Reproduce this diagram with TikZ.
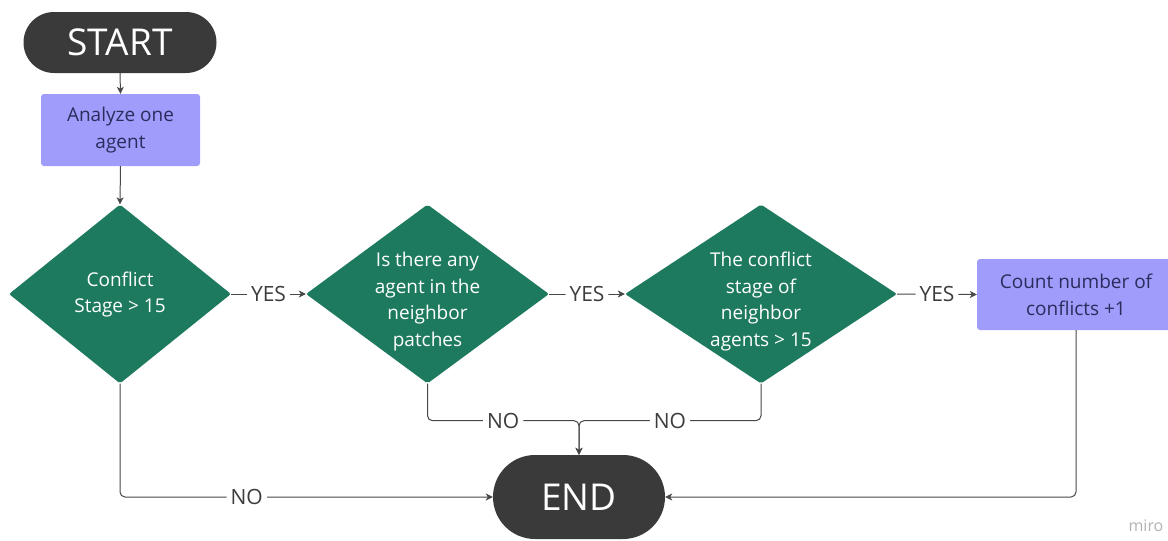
\documentclass[tikz,border=0pt]{standalone}
\usepackage{fontspec}
\setmainfont{Open Sans}
\usetikzlibrary{shapes.geometric,shapes.misc,arrows.meta}

\definecolor{pillfill}{HTML}{3A3A3A}
\definecolor{decfill}{HTML}{1E7A5E}
\definecolor{procfill}{HTML}{9F9CFB}
\definecolor{proctext}{HTML}{2C2B5C}
\definecolor{linecol}{HTML}{474747}
\definecolor{labelcol}{HTML}{3C3C3C}

\tikzset{
  x=1pt, y=1pt,
  pill/.style={rounded rectangle, fill=pillfill, text=white, inner sep=0pt,
    font=\fontsize{37}{42}\selectfont},
  procbox/.style={rectangle, rounded corners=3pt, fill=procfill, text=proctext,
    inner sep=0pt, align=center, font=\fontsize{19}{27}\selectfont},
  decision/.style={diamond, fill=decfill, inner sep=0pt, rounded corners=2pt},
  dtext/.style={text=white, align=center, inner sep=0pt,
    font=\fontsize{19}{26.5}\selectfont},
  flow/.style={draw=linecol, line width=1pt, rounded corners=5pt,
    -{Stealth[length=7pt,width=7pt,inset=2pt]}},
  flowlabel/.style={fill=white, text=labelcol, inner sep=4pt,
    font=\fontsize{21}{24}\selectfont},
}

\begin{document}
\begin{tikzpicture}
\useasboundingbox (0,0) rectangle (1168,-541);
\clip (0,0) rectangle (1168,-541);

% terminals
\node[pill, minimum width=193pt, minimum height=61pt] (start) at (120,-42.5) {START};
\node[pill, minimum width=172pt, minimum height=84pt] (finish) at (579,-497) {END};

% process boxes
\node[procbox, minimum width=159pt, minimum height=72pt] (analyze) at (120.5,-130)
  {Analyze one\\agent};
\node[procbox, minimum width=198pt, minimum height=71pt] (count) at (1076,-294.5)
  {Count number of\\conflicts +1};

% decisions
\node[decision, minimum width=222pt, minimum height=179pt] (d1) at (120,-294) {};
\node[dtext] (d1t) at ([yshift=-0.5pt]d1.center) {Conflict\\Stage > 15};

\node[decision, minimum width=243pt, minimum height=179pt] (d2) at (427.5,-294) {};
\node[dtext] (d2t) at ([yshift=-7.5pt]d2.center) {Is there any\\agent in the\\neighbor\\patches};

\node[decision, minimum width=272pt, minimum height=179pt] (d3) at (761,-294) {};
\node[dtext] (d3t) at ([yshift=-7.5pt]d3.center) {The conflict\\stage of\\neighbor\\agents > 15};

% watermark
\node[text=black!30, inner sep=0pt, font=\fontsize{16}{18}\selectfont] (mark) at (1146,-526) {miro};

% main flow
\draw[flow] (start.south) -- (analyze.north);
\draw[flow] (analyze.south) -- (d1.north);
\draw[flow] (d1.east) -- node[flowlabel] (y1) {YES} (d2.west);
\draw[flow] (d2.east) -- node[flowlabel] (y2) {YES} (d3.west);
\draw[flow] (d3.east) -- node[flowlabel] (y3) {YES} (count.west);

% negative branches
\draw[flow] (d1.south) |- node[flowlabel, pos=0.67] (n1) {NO} (finish.west);
\draw[flow] (d2.south) -- ++(0,-37) -| node[flowlabel, pos=0.25] (n2) {NO} (finish.north);
\draw[flow] (d3.south) -- ++(0,-37) -| node[flowlabel, pos=0.25] (n3) {NO} (finish.north);
\draw[flow] (count.south) |- (finish.east);
\end{tikzpicture}
\end{document}
